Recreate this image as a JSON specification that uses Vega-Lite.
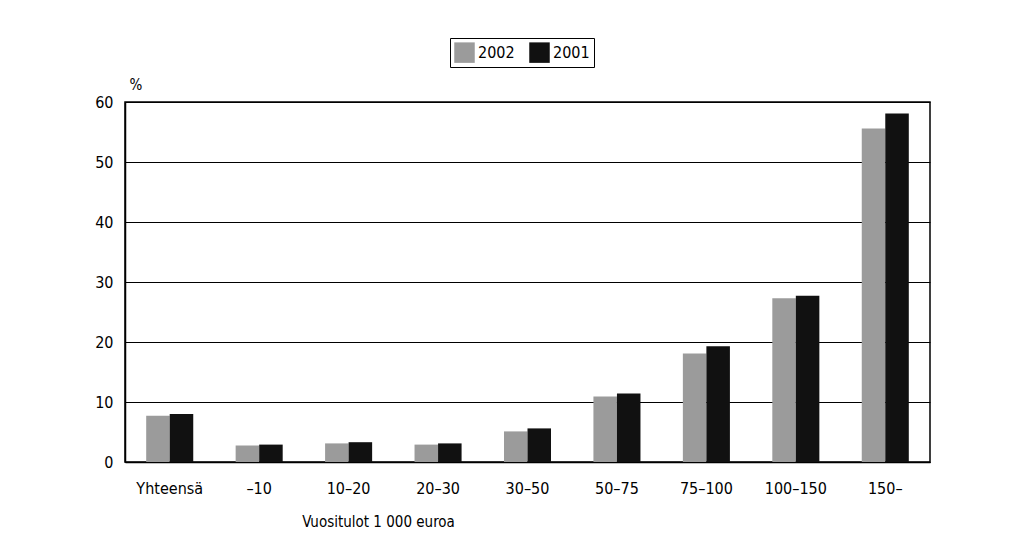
{
  "$schema": "https://vega.github.io/schema/vega-lite/v6.json",
  "autosize": {"type": "none"},
  "width": 805,
  "height": 360,
  "padding": {"left": 125, "top": 102, "right": 79, "bottom": 93},
  "background": "white",
  "data": {"values": [
    {"tulot": "Yhteensä", "vuosi": "2002", "osuus": 7.7},
    {"tulot": "Yhteensä", "vuosi": "2001", "osuus": 8.0},
    {"tulot": "–10", "vuosi": "2002", "osuus": 2.75},
    {"tulot": "–10", "vuosi": "2001", "osuus": 2.9},
    {"tulot": "10–20", "vuosi": "2002", "osuus": 3.1},
    {"tulot": "10–20", "vuosi": "2001", "osuus": 3.3},
    {"tulot": "20–30", "vuosi": "2002", "osuus": 2.9},
    {"tulot": "20–30", "vuosi": "2001", "osuus": 3.1},
    {"tulot": "30–50", "vuosi": "2002", "osuus": 5.1},
    {"tulot": "30–50", "vuosi": "2001", "osuus": 5.6},
    {"tulot": "50–75", "vuosi": "2002", "osuus": 10.9},
    {"tulot": "50–75", "vuosi": "2001", "osuus": 11.4},
    {"tulot": "75–100", "vuosi": "2002", "osuus": 18.1},
    {"tulot": "75–100", "vuosi": "2001", "osuus": 19.3},
    {"tulot": "100–150", "vuosi": "2002", "osuus": 27.3},
    {"tulot": "100–150", "vuosi": "2001", "osuus": 27.7},
    {"tulot": "150–", "vuosi": "2002", "osuus": 55.6},
    {"tulot": "150–", "vuosi": "2001", "osuus": 58.1}
  ]},
  "mark": {"type": "bar"},
  "encoding": {
    "x": {
      "field": "tulot", "type": "nominal", "sort": null,
      "scale": {"paddingInner": 0.474, "paddingOuter": 0.237},
      "axis": {
        "title": "Vuositulot 1 000 euroa",
        "labelAngle": 0, "labelPadding": 18, "ticks": false,
        "domainColor": "black", "domainWidth": 1.5,
        "titleX": 253, "titleY": 59, "titleAlign": "center", "titleBaseline": "middle", "titleAnchor": null
      }
    },
    "xOffset": {"field": "vuosi", "type": "nominal", "sort": ["2002", "2001"]},
    "y": {
      "field": "osuus", "type": "quantitative",
      "scale": {"domain": [0, 60], "nice": false},
      "axis": {
        "title": "%", "titleAngle": 0, "titleX": 4, "titleY": -18,
        "titleAlign": "left", "titleBaseline": "middle",
        "values": [0, 10, 20, 30, 40, 50, 60],
        "ticks": false, "labelPadding": 12,
        "grid": true, "gridColor": "black", "gridWidth": 1,
        "domainColor": "black", "domainWidth": 1.5
      }
    },
    "color": {
      "field": "vuosi", "type": "nominal",
      "scale": {"domain": ["2002", "2001"], "range": ["#9b9b9b", "#111111"]},
      "legend": {
        "title": null, "orient": "none", "direction": "horizontal",
        "legendX": 325, "legendY": -64,
        "strokeColor": "black", "padding": 4,
        "symbolType": "square", "symbolSize": 420, "symbolStrokeWidth": 0,
        "symbolOpacity": 1, "labelOffset": 3, "columnPadding": 14
      }
    }
  },
  "config": {
    "font": "DejaVu Sans Condensed, sans-serif",
    "view": {"stroke": "black", "strokeWidth": 1.5},
    "axis": {
      "labelFont": "DejaVu Sans Condensed, sans-serif",
      "titleFont": "DejaVu Sans Condensed, sans-serif",
      "labelFontSize": 16, "titleFontSize": 15,
      "labelColor": "black", "titleColor": "black",
      "titleFontWeight": "normal", "labelFontWeight": "normal"
    },
    "legend": {
      "labelFont": "DejaVu Sans Condensed, sans-serif",
      "labelFontSize": 16, "labelColor": "black", "labelFontWeight": "normal"
    }
  }
}
